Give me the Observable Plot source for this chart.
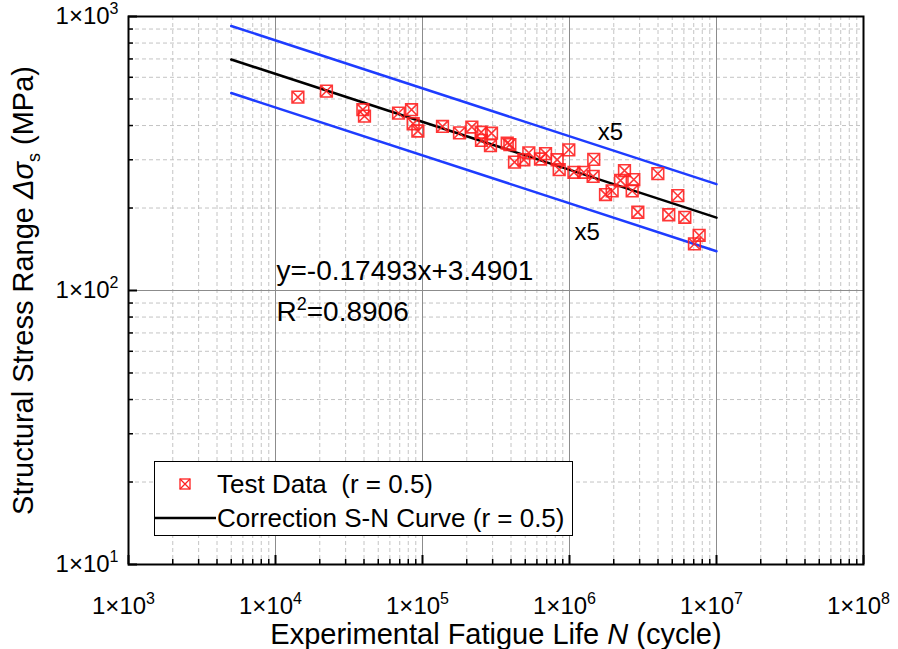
<!DOCTYPE html>
<html><head><meta charset="utf-8">
<script src="https://cdn.jsdelivr.net/npm/d3@7"></script>
<script src="https://cdn.jsdelivr.net/npm/@observablehq/plot@0.6"></script>
<style>
body{margin:0;background:#fff;}
#wrap{position:relative;width:898px;height:649px;font-family:"Liberation Sans",Arial,sans-serif;}
#legend{position:absolute;left:154px;top:461px;width:417px;height:73px;border:1px solid #000;background:#fff;}
.lrow{position:absolute;left:62px;font-size:26px;line-height:26px;white-space:pre;color:#000;}
</style></head>
<body><div id="wrap"><div id="legend"></div></div>
<script>
// Test data (fatigue life N in cycles, structural stress range in MPa)
const testN = [14200, 22200, 39300, 40300, 68700, 84200, 86400, 93000, 136800, 178500, 216600, 250800, 294700, 290000, 251900, 377000, 392900, 422600, 489000, 528700, 635000, 687000, 824000, 851000, 989000, 1072000, 1251000, 1448000, 1462000, 1758000, 1950000, 2223000, 2366000, 2738000, 2670000, 2916000, 3990000, 4735000, 5451000, 6087000, 7080000, 7620000];
const testS = [508, 534, 457, 433, 444, 457, 406, 382, 397, 376, 395, 378, 375, 338, 353, 345, 341, 294, 300, 318, 302, 316, 300, 276, 326, 270, 270, 261, 301, 224, 231, 252, 274, 254, 231, 193, 267, 189, 222, 185, 148, 159];
// Fitted S-N curve and the x5 scatter band end points
const curveN = [5000, 10000000];
const meanS = [696.6, 184.4];
const upperS = [923.4, 244.4];
const lowerS = [525.5, 139.1];
// Tick values
const majorX = [1e3, 1e4, 1e5, 1e6, 1e7, 1e8];
const majorY = [10, 100, 1000];
const minorMult = [2, 3, 4, 5, 6, 7, 8, 9];
const minorX = [1e3, 1e4, 1e5, 1e6, 1e7].flatMap(b => minorMult.map(m => m * b));
const minorY = [10, 100].flatMap(b => minorMult.map(m => m * b));
// Annotations
const bandLabels = [{N: 1.9e6, S: 377, t: "x5"}, {N: 1.32e6, S: 162.8, t: "x5"}];
const eqLabels = [{N: 1.016e4, S: 117.3, t: "y=-0.17493x+3.4901"}, {N: 1.016e4, S: 83.1, t: "R2=0.8906"}];

const pts = testN.map((n, i) => ({N: n, S: testS[i]}));
const curve = curveN.map((n, i) => ({N: n, mean: meanS[i], up: upperS[i], lo: lowerS[i]}));

const boxX = {
  draw(ctx, size) {
    const s = Math.sqrt(size) / 2;
    ctx.moveTo(-s, -s); ctx.lineTo(s, -s); ctx.lineTo(s, s); ctx.lineTo(-s, s); ctx.closePath();
    ctx.moveTo(-s, -s); ctx.lineTo(s, s);
    ctx.moveTo(s, -s); ctx.lineTo(-s, s);
  }
};
const red = "#ff2020";
const blue = "#1e3cff";
const expFmt = d => "1×10^" + Math.round(Math.log10(d));

const chart = Plot.plot({
  width: 898, height: 649,
  marginLeft: 128, marginRight: 35, marginTop: 16, marginBottom: 85,
  style: {fontFamily: '"Liberation Sans", Arial, sans-serif', background: "#fff", color: "#000"},
  x: {type: "log", domain: [1e3, 1e8]},
  y: {type: "log", domain: [10, 1000]},
  marks: [
    Plot.gridX(minorX, {stroke: "#c4c4c4", strokeOpacity: 1, strokeDasharray: "4,3"}),
    Plot.gridY(minorY, {stroke: "#c4c4c4", strokeOpacity: 1, strokeDasharray: "4,3"}),
    Plot.gridX(majorX, {stroke: "#8c8c8c", strokeOpacity: 1}),
    Plot.gridY(majorY, {stroke: "#8c8c8c", strokeOpacity: 1}),
    Plot.line(curve, {x: "N", y: "up", stroke: blue, strokeWidth: 2.5}),
    Plot.line(curve, {x: "N", y: "lo", stroke: blue, strokeWidth: 2.5}),
    Plot.line(curve, {x: "N", y: "mean", stroke: "#000", strokeWidth: 2.5}),
    Plot.dot(pts, {x: "N", y: "S", symbol: boxX, r: 6.6, stroke: red, strokeOpacity: 0.9, strokeWidth: 1.6, fill: "none"}),
    Plot.text(bandLabels, {x: "N", y: "S", text: "t", fontSize: 24, fill: "#000"}),
    Plot.text(eqLabels, {x: "N", y: "S", text: "t", fontSize: 28, textAnchor: "start", fill: "#000"}),
    Plot.axisX(minorX, {tickSize: -5, fill: "none", stroke: "#000", strokeWidth: 1.5, label: null}),
    Plot.axisY(minorY, {anchor: "left", tickSize: -5, fill: "none", stroke: "#000", strokeWidth: 1.5, label: null}),
    Plot.axisX(majorX, {tickSize: -9, fill: "none", stroke: "#000", strokeWidth: 2, label: null}),
    Plot.axisY(majorY, {anchor: "left", tickSize: -9, fill: "none", stroke: "#000", strokeWidth: 2, label: null}),
    Plot.axisX(majorX, {tickSize: 0, tickPadding: 32, dx: -5, tickFormat: expFmt, fontSize: 24, label: null}),
    Plot.axisY(majorY, {anchor: "left", tickSize: 0, tickPadding: 10, tickFormat: expFmt, fontSize: 24, label: null}),
    Plot.text(["Experimental Fatigue Life N (cycle)"], {frameAnchor: "bottom", textAnchor: "middle", lineAnchor: "middle", dy: 70, fontSize: 29, fill: "#000"}),
    Plot.text(["Structural Stress Range Δσs (MPa)"], {frameAnchor: "left", textAnchor: "middle", lineAnchor: "middle", dx: -105, rotate: -90, fontSize: 29, fill: "#000"}),
    Plot.frame({stroke: "#000", strokeWidth: 2})
  ]
});
document.getElementById("wrap").prepend(chart);

const NS = "http://www.w3.org/2000/svg";
function rich(el, parts) {
  el.textContent = "";
  for (const p of parts) {
    const t = document.createElementNS(NS, "tspan");
    t.textContent = p.t;
    if (p.italic) t.setAttribute("font-style", "italic");
    if (p.size) t.setAttribute("font-size", p.size);
    if (p.dy) t.setAttribute("dy", p.dy);
    el.appendChild(t);
  }
}
chart.querySelectorAll("text").forEach(el => {
  const s = el.textContent;
  let m = s.match(/^1×10\^(\d)$/);
  if (m) { rich(el, [{t: "1×10"}, {t: m[1], size: "16px", dy: "-10"}]); return; }
  if (s === "R2=0.8906") { rich(el, [{t: "R"}, {t: "2", size: "18px", dy: "-11"}, {t: "=0.8906", dy: "11"}]); return; }
  if (s === "Experimental Fatigue Life N (cycle)") { rich(el, [{t: "Experimental Fatigue Life "}, {t: "N", italic: true}, {t: " (cycle)"}]); return; }
  if (s === "Structural Stress Range Δσs (MPa)") { rich(el, [{t: "Structural Stress Range "}, {t: "Δσ", italic: true}, {t: "s", size: "18px", dy: "7"}, {t: " (MPa)", dy: "-7"}]); return; }
});

// Legend
const lg = document.getElementById("legend");
lg.innerHTML = `
<svg width="417" height="73" style="position:absolute;left:0;top:0">
  <g transform="translate(30,22)" stroke="${red}" stroke-width="1.3" fill="none">
    <rect x="-5" y="-5" width="10" height="10"/><path d="M-5,-5L5,5M5,-5L-5,5"/>
  </g>
  <line x1="0" x2="61" y1="56" y2="56" stroke="#000" stroke-width="2.5"/>
</svg>
<div class="lrow" style="top:9px">Test Data  (r = 0.5)</div>
<div class="lrow" style="top:43px">Correction S-N Curve (r = 0.5)</div>`;
</script></body></html>
